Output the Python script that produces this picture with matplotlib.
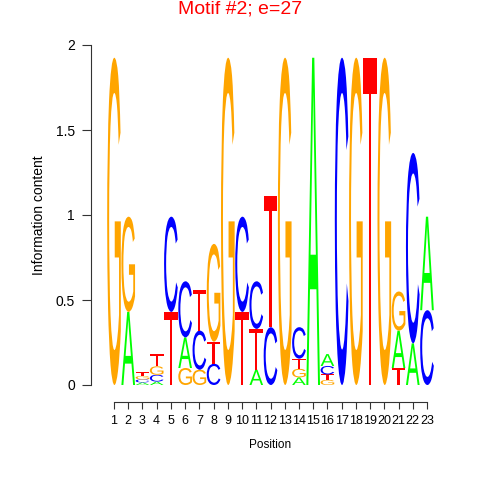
import matplotlib
matplotlib.use("Agg")
import matplotlib.pyplot as plt
from matplotlib.textpath import TextPath
from matplotlib.patches import PathPatch
from matplotlib.font_manager import FontProperties
from matplotlib.transforms import Affine2D

# ---- data (information content per nucleotide, per position) ----
positions = list(range(1, 24))
A_heights = [0, 0.43, 0.015, 0.02, 0, 0.18, 0, 0, 0, 0, 0.09, 0, 0, 0.045, 1.925, 0.07, 0, 0, 0, 0, 0.22, 0.245, 0.55]
C_heights = [0, 0, 0.018, 0.04, 0.56, 0.33, 0.23, 0.125, 0, 0.56, 0.28, 0.34, 0, 0.185, 0, 0.05, 1.925, 0, 0, 0, 0, 1.12, 0.44]
G_heights = [1.925, 0.56, 0.02, 0.05, 0, 0.10, 0.09, 0.575, 1.925, 0, 0, 0, 1.925, 0.05, 0, 0.03, 0, 1.925, 0, 1.925, 0.23, 0, 0]
T_heights = [0, 0, 0.022, 0.07, 0.43, 0, 0.24, 0.13, 0, 0.43, 0.24, 0.77, 0, 0.06, 0, 0.032, 0, 0, 1.925, 0, 0.10, 0, 0]
letters = ["A", "C", "G", "T"]
colors = {"A": "#00FF00", "C": "#0000FF", "G": "#FFA500", "T": "#FF0000"}
y_ticks = [0, 0.5, 1, 1.5, 2]
y_tick_labels = ["0", "0.5", "1", "1.5", "2"]
title = "Motif #2; e=27"

W, H = 480, 480
fig = plt.figure(figsize=(W / 100, H / 100), dpi=100)

x0_px, dx = 114.0, (427.0 - 114.0) / 22
y0_px, y2_px = 385.0, 45.0
left = (x0_px - 0.5 * dx) / W
width = 23 * dx / W
bottom = (H - y0_px) / H
height = (y0_px - y2_px) / H
ax = fig.add_axes([left, bottom, width, height])
ax.set_xlim(0.5, 23.5)
ax.set_ylim(0, 2)

fp = FontProperties(family="Liberation Sans", weight="normal")
glyphs = {}
for L in letters:
    p = TextPath((0, 0), L, size=1, prop=fp)
    glyphs[L] = (p, p.get_extents())

lw = 0.96
heights = {"A": A_heights, "C": C_heights, "G": G_heights, "T": T_heights}
for i, pos in enumerate(positions):
    col = sorted([(heights[L][i], L) for L in letters], key=lambda t: t[0])
    ybase = 0.0
    for h, L in col:
        if h <= 0:
            continue
        p, bb = glyphs[L]
        tr = (Affine2D()
              .translate(-bb.x0, -bb.y0)
              .scale(lw / bb.width, h / bb.height)
              .translate(pos - lw / 2, ybase))
        patch = PathPatch(tr.transform_path(p), facecolor=colors[L], edgecolor="none", lw=0)
        ax.add_patch(patch)
        ybase += h

for s in ["top", "right"]:
    ax.spines[s].set_visible(False)
ax.spines["left"].set_position(("outward", 16 * 0.72))
ax.spines["bottom"].set_position(("outward", 17 * 0.72))
ax.spines["left"].set_bounds(0, 2)
ax.spines["bottom"].set_bounds(1, 23)
for s in ["left", "bottom"]:
    ax.spines[s].set_color("#333333")
    ax.spines[s].set_linewidth(0.8)

ax.set_xticks(positions)
ax.set_xticklabels([str(p) for p in positions], fontsize=9, family="Liberation Sans")
ax.set_yticks(y_ticks)
ax.set_yticklabels(y_tick_labels, fontsize=10, family="Liberation Sans")
ax.tick_params(axis="x", length=5, width=0.8, color="#333333", pad=4)
ax.tick_params(axis="y", length=6.5, width=0.8, color="#333333", pad=5)

fig.text(39 / W, 1 - 215 / H, "Information content", rotation=90, ha="center", va="center",
         fontsize=10, family="Liberation Sans")
fig.text(x0_px / W + 11 * dx / W, 1 - 445 / H, "Position", ha="center", va="center",
         fontsize=8.5, family="Liberation Sans")
fig.text(240 / W, 1 - 9 / H, title, ha="center", va="center", fontsize=14,
         color="#FF0000", family="Liberation Sans")

fig.savefig("out.png", dpi=100)
